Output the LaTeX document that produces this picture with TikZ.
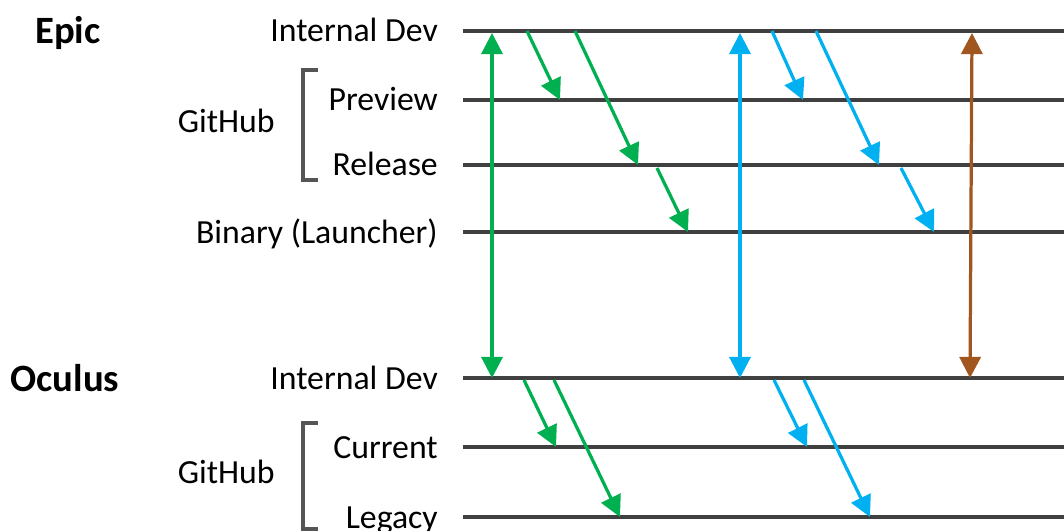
\documentclass[tikz,border=0pt]{standalone}
\usepackage{fontspec}
\setmainfont{Carlito}
\usetikzlibrary{arrows.meta, calc}
\definecolor{trackgray}{HTML}{404040}
\definecolor{brkgray}{HTML}{555555}
\definecolor{epicgreen}{HTML}{00B050}
\definecolor{ocblue}{HTML}{00B0F0}
\definecolor{syncbrown}{HTML}{A0561E}

\begin{document}
\begin{tikzpicture}[
    x=0.025cm, y=-0.025cm,
    lbl/.style={anchor=base east, inner sep=0pt, font=\fontsize{24}{28}\selectfont},
    head/.style={anchor=base, inner sep=0pt, font=\fontsize{27.5}{32}\selectfont\bfseries},
    track/.style={draw=trackgray, line width=2.2pt},
    brk/.style={draw=brkgray, line width=2.8pt},
    flow/.style={line width=2.3pt, -{Triangle[length=15pt,width=15pt]}},
    sync/.style={line width=2.3pt,
                 {Triangle[length=15pt,width=15pt]}-{Triangle[length=15pt,width=15pt]}}
  ]
    \useasboundingbox (0,0) rectangle (1064,531);

    % group headings
    \node[head] (epic) at (68,44) {Epic};
    \node[head] (oculus) at (65,391) {Oculus};

    % branch labels
    \node[lbl] (lEDev) at (438,42) {Internal Dev};
    \node[lbl] (lEPrev) at (438,111) {Preview};
    \node[lbl] (lERel) at (438,176) {Release};
    \node[lbl] (lEBin) at (438,243) {Binary (Launcher)};
    \node[lbl] (lODev) at (438,389) {Internal Dev};
    \node[lbl] (lOCur) at (438,458) {Current};
    \node[lbl] (lOLeg) at (438,528) {Legacy};
    \node[lbl] (ghEpic) at (275,133) {GitHub};
    \node[lbl] (ghOc) at (275,483) {GitHub};

    % brackets
    \draw[brk] (318,70) -| (303,180) -- (318,180);
    \draw[brk] (318,423) -| (303,529) -- (318,529);

    % tracks
    \foreach \n/\y in {eDev/31, ePrev/100, eRel/165, eBin/232,
                       oDev/378, oCur/447, oLeg/517} {
      \coordinate (\n) at (463,\y);
      \draw[track] (\n) -- ++(601,0);
    }

    % sync between Epic and Oculus
    \draw[sync, epicgreen] ($(eDev)+(29,2)$) -- ($(oDev)+(29,0)$);
    \draw[sync, ocblue] ($(eDev)+(277,2)$) -- ($(oDev)+(277,0)$);
    \draw[sync, syncbrown] ($(eDev)+(509,2)$) -- ($(oDev)+(507,0)$);

    % Epic pushes
    \draw[flow, epicgreen] ($(eDev)+(64,0)$) -- ($(ePrev)+(97,0)$);
    \draw[flow, epicgreen] ($(eDev)+(112,0)$) -- ($(eRel)+(175,0)$);
    \draw[flow, epicgreen] ($(eRel)+(194,3)$) -- ($(eBin)+(225,0)$);
    \draw[flow, ocblue] ($(eDev)+(309,0)$) -- ($(ePrev)+(340,0)$);
    \draw[flow, ocblue] ($(eDev)+(353,0)$) -- ($(eRel)+(416,0)$);
    \draw[flow, ocblue] ($(eRel)+(438,3)$) -- ($(eBin)+(471,0)$);

    % Oculus pushes
    \draw[flow, epicgreen] ($(oDev)+(61,2)$) -- ($(oCur)+(93,0)$);
    \draw[flow, epicgreen] ($(oDev)+(91,2)$) -- ($(oLeg)+(157,0)$);
    \draw[flow, ocblue] ($(oDev)+(311,2)$) -- ($(oCur)+(344,0)$);
    \draw[flow, ocblue] ($(oDev)+(341,2)$) -- ($(oLeg)+(407,0)$);
\end{tikzpicture}
\end{document}
